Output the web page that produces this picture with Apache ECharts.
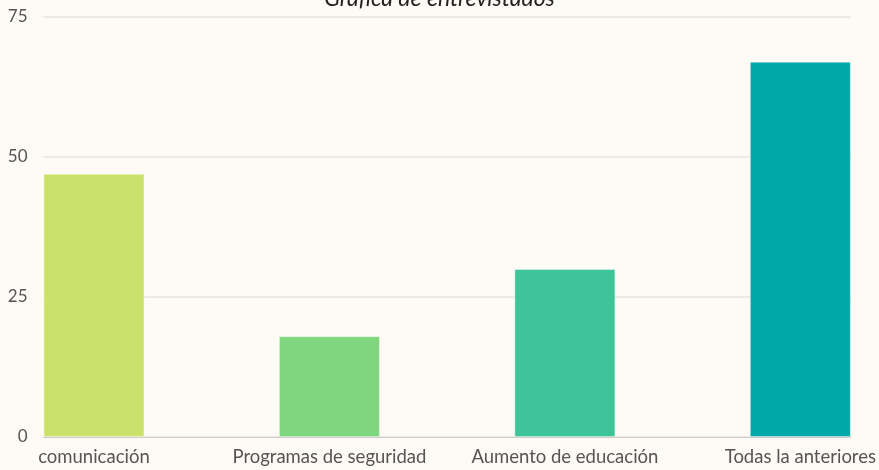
<!DOCTYPE html>
<html>
<head>
<meta charset="utf-8">
<script src="https://cdn.jsdelivr.net/npm/echarts@6/dist/echarts.min.js"></script>
<style>
  html, body { margin: 0; padding: 0; background: #fefaf5; }
  #grafica { width: 879px; height: 470px; }
</style>
</head>
<body>
<div id="grafica"></div>
<script>
var categorias = ['comunicación', 'Programas de seguridad', 'Aumento de educación', 'Todas la anteriores']
var valores = [47, 18, 30, 67]
var colores = ['#cbe26a', '#7fd67e', '#3dc499', '#00a9a8']
var yTicks = [0, 25, 50, 75]

var myChart = echarts.init(document.getElementById('grafica'))

// the bars touch both ends of the plot, so x is a value axis
// running from -3/14 to 3+3/14, ticks every 1/14 (labels only on whole numbers)
var paso = 1 / 14

var option = {
  backgroundColor: '#fefaf5',
  textStyle: { fontFamily: 'Lato' },
  title: {
    text: 'Gráfica de entrevistados',
    left: 'center',
    top: -18,
    textStyle: {
      fontFamily: 'Lato',
      fontStyle: 'italic',
      fontWeight: 'normal',
      fontSize: 23,
      color: '#222'
    }
  },
  grid: {
    left: 43.5,
    right: 27.5,
    top: 17,
    bottom: 33
  },
  xAxis: {
    type: 'value',
    min: -3 * paso,
    max: categorias.length - 1 + 3 * paso,
    interval: paso,
    splitLine: { show: false },
    axisTick: { show: false },
    axisLine: { show: true, lineStyle: { color: '#cfcbc6', width: 1 } },
    axisLabel: {
      color: '#555',
      fontSize: 18.5,
      margin: 11,
      formatter: function (v) {
        var i = Math.round(v)
        return Math.abs(v - i) < 1e-6 && categorias[i] ? categorias[i] : ''
      }
    }
  },
  yAxis: {
    type: 'value',
    min: yTicks[0],
    max: yTicks[yTicks.length - 1],
    interval: 25,
    axisLine: { show: false },
    axisTick: { show: false },
    axisLabel: { color: '#555', fontSize: 17, margin: 16 },
    splitLine: { lineStyle: { color: '#e9e5e0', width: 1.5 } }
  },
  series: [{
    type: 'bar',
    barWidth: 101,
    data: valores.map(function (v, i) {
      return {
        value: [i, v],
        itemStyle: { color: colores[i] }
      }
    }),
    itemStyle: {
      borderColor: 'rgba(255,255,255,0.35)',
      borderWidth: 1
    }
  }]
}

myChart.setOption(option)
</script>
</body>
</html>
